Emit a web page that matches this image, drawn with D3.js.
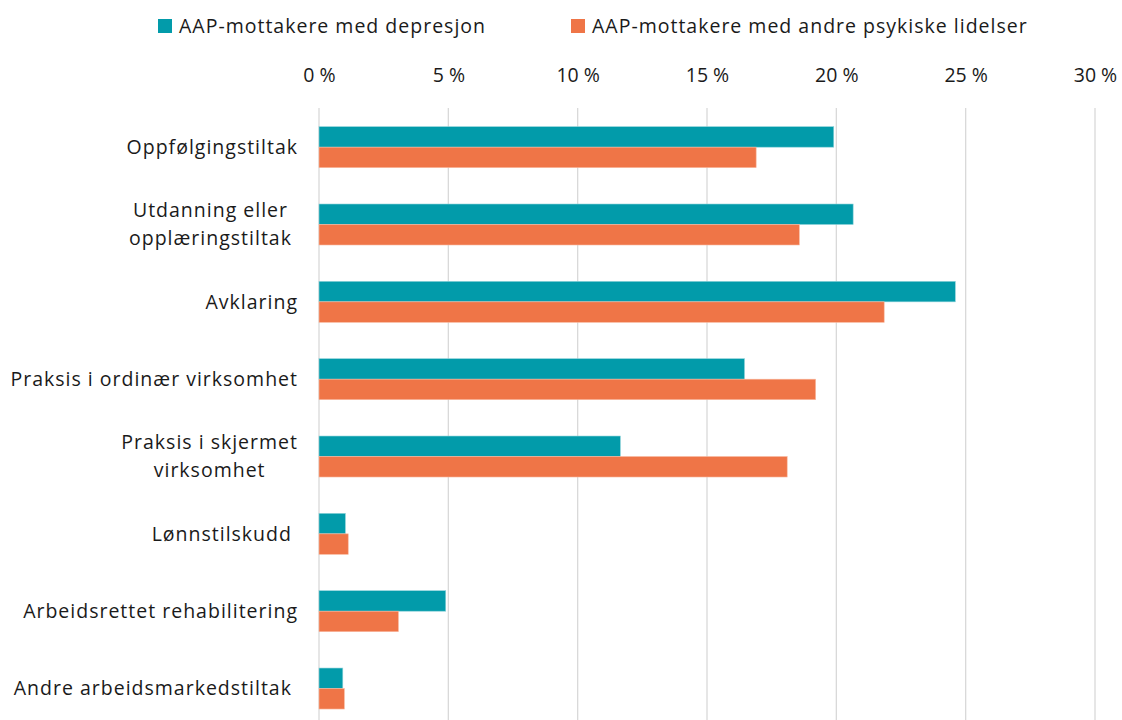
<!DOCTYPE html>
<html>
<head>
<meta charset="utf-8">
<script src="https://cdn.jsdelivr.net/npm/d3@7"></script>
<style>
  body { margin: 0; background: #fff; }
  svg { display: block; }
  text { font-family: "Open Sans", Lato, sans-serif; fill: #1a1a1a; white-space: pre; }
  .lbl { letter-spacing: 1px; }
</style>
</head>
<body>
<svg id="chart" width="1122" height="720"></svg>
<script>
// categories, top to bottom (wrapped labels split by "\n")
var categories = [
  "Oppfølgingstiltak",
  "Utdanning eller \nopplæringstiltak ",
  "Avklaring",
  "Praksis i ordinær virksomhet",
  "Praksis i skjermet\nvirksomhet",
  "Lønnstilskudd ",
  "Arbeidsrettet rehabilitering",
  "Andre arbeidsmarkedstiltak "
];
var seriesNames = ["AAP-mottakere med depresjon", "AAP-mottakere med andre psykiske lidelser"];
var seriesColors = ["#029BAA", "#EF7547"];
// percent values
var depresjon = [19.9, 20.65, 24.6, 16.45, 11.65, 1.02, 4.9, 0.92];
var andre = [16.9, 18.57, 21.85, 19.2, 18.1, 1.13, 3.07, 0.98];
var tickValues = [0, 5, 10, 15, 20, 25, 30];

var svg = d3.select("#chart");
var fontSize = 19.5;

var x = d3.scaleLinear().domain([0, 30]).range([319, 1095]);
var y = d3.scaleBand().domain(d3.range(categories.length))
  .range([108.5, 727.2]).paddingInner(0.47).paddingOuter(0.235);
var ySub = d3.scaleBand().domain([0, 1]).range([0, y.bandwidth()]);

// grid lines
svg.append("g").selectAll("line").data(tickValues).join("line")
  .attr("x1", function(d) { return x(d); }).attr("x2", function(d) { return x(d); })
  .attr("y1", 108).attr("y2", 720)
  .attr("stroke", "#d9d9d9").attr("stroke-width", 1.3);

// top axis labels
var axis = d3.axisTop(x).tickValues(tickValues).tickSize(0)
  .tickFormat(function(d) { return d + " %"; });
var axisG = svg.append("g").attr("transform", "translate(0,78)").call(axis);
axisG.select(".domain").remove();
axisG.selectAll("text").attr("font-size", fontSize).attr("dy", "0.35em")
  .style("font-family", "'Open Sans', sans-serif").attr("fill", "#1a1a1a");

// bars
var rows = categories.map(function(c, i) { return [depresjon[i], andre[i]]; });
var groups = svg.append("g").selectAll("g").data(rows).join("g")
  .attr("transform", function(d, i) { return "translate(0," + y(i) + ")"; });
groups.selectAll("rect").data(function(d) { return d; }).join("rect")
  .attr("x", x(0))
  .attr("y", function(d, j) { return ySub(j); })
  .attr("width", function(d) { return x(d) - x(0); })
  .attr("height", ySub.bandwidth())
  .attr("fill", function(d, j) { return seriesColors[j]; })
  .attr("stroke", function(d, j) { return j === 0 ? "#8fd3da" : "#f9b9a0"; })
  .attr("stroke-width", 0.6);

// category labels
var labelRight = 298;
var lineGap = 28;
categories.forEach(function(c, i) {
  var lines = c.split("\n");
  var cy = y(i) + y.bandwidth() / 2;
  var t = svg.append("text").attr("class", "lbl").attr("font-size", fontSize);
  if (lines.length === 1) {
    t.attr("x", labelRight).attr("y", cy).attr("dy", "0.35em")
      .attr("text-anchor", "end").text(lines[0]);
  } else {
    var spans = lines.map(function(l, k) {
      return t.append("tspan").attr("y", cy + (k - (lines.length - 1) / 2) * lineGap)
        .attr("dy", "0.35em").text(l);
    });
    var maxW = d3.max(spans, function(s) { return s.node().getComputedTextLength(); });
    var cx = labelRight - maxW / 2;
    spans.forEach(function(s) { s.attr("x", cx).attr("text-anchor", "middle"); });
  }
});

// legend
var legendX = [158, 571];
seriesNames.forEach(function(name, i) {
  svg.append("rect").attr("x", legendX[i]).attr("y", 19).attr("width", 14).attr("height", 14)
    .attr("fill", seriesColors[i]);
  svg.append("text").attr("class", "lbl").attr("x", legendX[i] + 21).attr("y", 26).attr("dy", "0.35em")
    .attr("font-size", fontSize).text(name);
});
</script>
</body>
</html>
